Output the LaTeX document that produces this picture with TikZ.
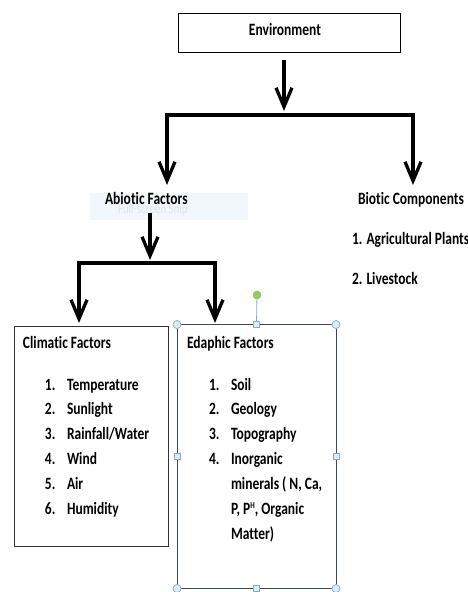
\documentclass[tikz,border=0pt]{standalone}
\usepackage{fontspec}
\setmainfont{Carlito}[Ligatures=NoCommon,FakeStretch=0.78]
\usetikzlibrary{arrows.meta}
\newcommand{\smallsup}[1]{\raisebox{6pt}{\fontsize{9}{9}\selectfont #1}}
\begin{document}
\begin{tikzpicture}[x=1pt,y=-1pt,
  every node/.style={inner sep=0pt,outer sep=0pt,font=\fontsize{17.3}{19}\selectfont\bfseries},
  lbl/.style={anchor=base west},
  conn/.style={line width=3.3pt},
  connarrow/.style={conn,-{Straight Barb[length=19pt,width=16pt]}},
  handlecirc/.style={circle,draw=handleedge,fill=handlefill,line width=0.7pt,minimum size=8pt},
  handlesq/.style={rectangle,draw=handleedge,fill=handlefill,line width=0.7pt,minimum size=6pt}
]
\definecolor{handleedge}{HTML}{8FA8BF}
\definecolor{handlefill}{HTML}{DDEBF6}
\definecolor{selborder}{HTML}{3A4A5C}
\definecolor{snipbg}{HTML}{F1F7FC}
\definecolor{sniptext}{HTML}{DDE4EC}
\definecolor{rotgreen}{HTML}{8CD24A}
\useasboundingbox (0,0) rectangle (468,592);
\fill[white] (0,0) rectangle (468,592);

% Environment
\node[draw,line width=0.9pt,minimum width=222pt,minimum height=39pt] (env) at (289,32.5) {};
\node[anchor=base] (envt) at (285,35.5) {Environment};

% Top tree
\coordinate (t0) at (284,60);
\coordinate (t1) at (284,111);
\coordinate (bl) at (167,115);
\coordinate (br) at (413,115);
\coordinate (al) at (167,185);
\coordinate (ar) at (413,185);
\draw[connarrow] (t0) -- (t1);
\draw[conn,line cap=rect] (bl) -- (br);
\draw[connarrow] (bl) -- (al);
\draw[connarrow] (br) -- (ar);

% Abiotic with snip overlay
\node[fill=snipbg,minimum width=158pt,minimum height=27pt,anchor=north west] (snip) at (90,193) {};
\node[lbl,text=sniptext,font=\fontsize{14}{16}\selectfont] (sniptxt) at (118,213) {Full-screen Snip};
\node[lbl] (abiotic) at (105,204.5) {Abiotic Factors};

% Biotic
\node[lbl] (biotic) at (358,204.5) {Biotic Components};
\node[lbl] (b1) at (352,244.5) {1. Agricultural Plants};
\node[lbl] (b2) at (352,284.5) {2. Livestock};

% Abiotic tree
\coordinate (s0) at (150,213);
\coordinate (s1) at (150,260);
\coordinate (cl) at (79,263);
\coordinate (cr) at (215,263);
\coordinate (dl) at (79,323);
\coordinate (dr) at (215,323);
\draw[connarrow] (s0) -- (s1);
\draw[conn,line cap=rect] (cl) -- (cr);
\draw[connarrow] (cl) -- (dl);
\draw[connarrow] (cr) -- (dr);

% Climatic box
\node[draw=black!80,line width=0.9pt,minimum width=154pt,minimum height=220pt,anchor=north west] (clim) at (14,326) {};
\node[lbl] (climt) at (23,348.5) {Climatic Factors};
\foreach \n/\t [count=\i] in {1./Temperature,2./Sunlight,3./{Rainfall/Water},4./Wind,5./Air,6./Humidity}{
  \node[lbl] (cn\i) at (45,390+24.9*\i-24.9) {\n};
  \node[lbl] (ci\i) at (67,390+24.9*\i-24.9) {\t};
}

% Edaphic box (selected)
\node[draw=selborder,line width=1pt,minimum width=159pt,minimum height=264pt,anchor=north west] (eda) at (177,324.5) {};
\coordinate (rot) at (257,295);
\draw[handleedge,line width=0.8pt] (rot) -- (eda.north);
\node[circle,draw=gray!70,fill=rotgreen,minimum size=8pt,line width=0.5pt] (roth) at (rot) {};
\node[handlecirc] (h1) at (eda.north west) {};
\node[handlecirc] (h2) at (eda.north east) {};
\node[handlecirc] (h3) at (eda.south west) {};
\node[handlecirc] (h4) at (eda.south east) {};
\node[handlesq] (h5) at (eda.north) {};
\node[handlesq] (h6) at (eda.west) {};
\node[handlesq] (h7) at (eda.east) {};
\node[handlesq] (h8) at (eda.south) {};
\node[lbl] (edat) at (187,348.5) {Edaphic Factors};
\foreach \n/\t [count=\i] in {1./Soil,2./Geology,3./Topography,4./Inorganic}{
  \node[lbl] (en\i) at (209,390+24.8*\i-24.8) {\n};
  \node[lbl] (ei\i) at (231,390+24.8*\i-24.8) {\t};
}
\node[lbl] (ei5) at (231,489.5) {minerals ( N, Ca,};
\node[lbl] (ei6) at (231,514.5) {P, P\smallsup{H}, Organic};
\node[lbl] (ei7) at (231,539.5) {Matter)};
\end{tikzpicture}
\end{document}
